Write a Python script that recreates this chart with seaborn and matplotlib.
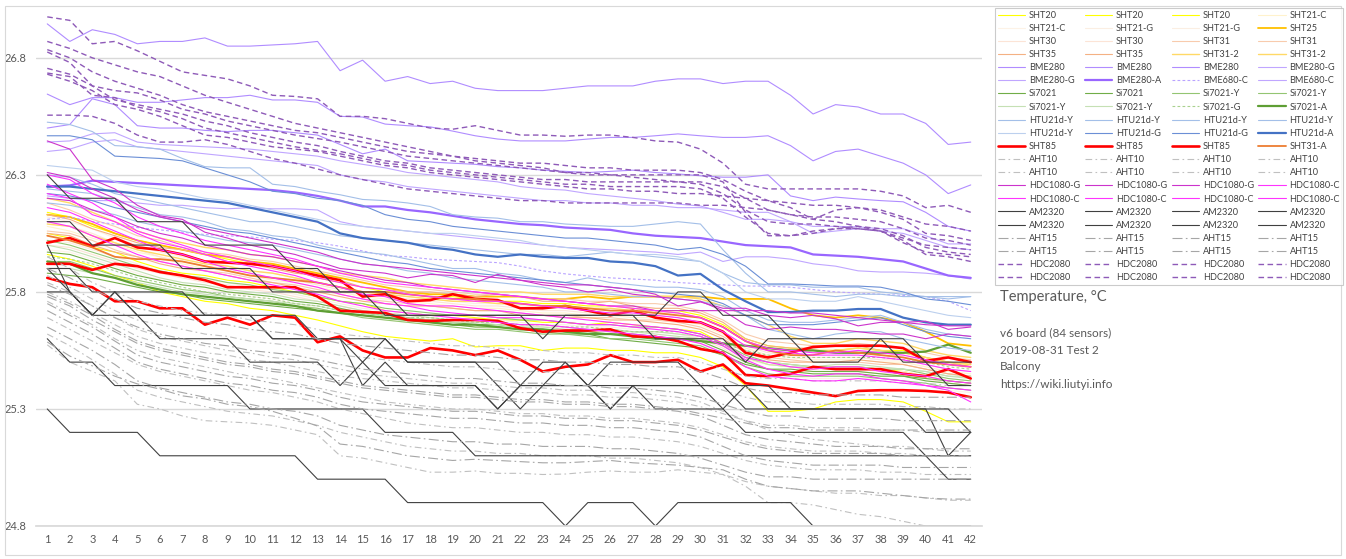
import numpy as np
import pandas as pd
import seaborn as sns
import matplotlib.pyplot as plt
from matplotlib.patches import Rectangle

points = list(range(1, 43))

# --- values (one list per sensor, 42 readings each) ---
sht20 = [
    [25.96, 25.94, 25.91, 25.87, 25.84, 25.80, 25.78, 25.76, 25.75, 25.73, 25.72, 25.70, 25.68, 25.655, 25.63, 25.61, 25.60, 25.59, 25.60, 25.565, 25.57, 25.57, 25.55, 25.56, 25.56, 25.55, 25.55, 25.54, 25.54, 25.52, 25.48, 25.40, 25.29, 25.29, 25.30, 25.33, 25.34, 25.34, 25.33, 25.29, 25.245, 25.245],
    [26.05, 26.03, 25.99, 25.97, 25.93, 25.90, 25.88, 25.87, 25.85, 25.84, 25.82, 25.80, 25.78, 25.76, 25.75, 25.72, 25.71, 25.70, 25.70, 25.69, 25.68, 25.68, 25.67, 25.67, 25.66, 25.67, 25.66, 25.65, 25.64, 25.63, 25.58, 25.52, 25.49, 25.48, 25.47, 25.48, 25.48, 25.47, 25.46, 25.44, 25.42, 25.41],
    [26.14, 26.12, 26.08, 26.05, 26.02, 26.00, 25.98, 25.96, 25.94, 25.92, 25.91, 25.89, 25.86, 25.84, 25.82, 25.80, 25.79, 25.78, 25.78, 25.77, 25.76, 25.76, 25.75, 25.75, 25.74, 25.74, 25.73, 25.72, 25.72, 25.70, 25.66, 25.60, 25.57, 25.56, 25.55, 25.55, 25.56, 25.55, 25.55, 25.52, 25.50, 25.49],
]
sht21_c = [
    [26.08, 26.06, 26.03, 26.00, 25.97, 25.95, 25.92, 25.90, 25.89, 25.87, 25.85, 25.84, 25.82, 25.80, 25.78, 25.77, 25.76, 25.75, 25.74, 25.73, 25.73, 25.72, 25.71, 25.71, 25.70, 25.70, 25.69, 25.69, 25.68, 25.66, 25.62, 25.56, 25.53, 25.52, 25.51, 25.51, 25.51, 25.50, 25.50, 25.48, 25.46, 25.45],
    [25.98, 25.97, 25.94, 25.91, 25.88, 25.85, 25.83, 25.81, 25.80, 25.78, 25.77, 25.75, 25.73, 25.71, 25.70, 25.68, 25.67, 25.66, 25.66, 25.65, 25.64, 25.64, 25.63, 25.63, 25.62, 25.62, 25.61, 25.61, 25.60, 25.58, 25.54, 25.48, 25.45, 25.44, 25.43, 25.43, 25.43, 25.43, 25.42, 25.40, 25.38, 25.37],
]
sht21_g = [
    [26.02, 26.01, 25.98, 25.95, 25.92, 25.89, 25.87, 25.85, 25.84, 25.82, 25.81, 25.79, 25.77, 25.75, 25.73, 25.72, 25.71, 25.70, 25.69, 25.68, 25.68, 25.67, 25.66, 25.66, 25.65, 25.65, 25.64, 25.64, 25.63, 25.61, 25.57, 25.51, 25.49, 25.48, 25.47, 25.47, 25.47, 25.46, 25.46, 25.44, 25.42, 25.41],
    [26.12, 26.10, 26.07, 26.03, 26.00, 25.97, 25.95, 25.93, 25.91, 25.89, 25.88, 25.86, 25.84, 25.82, 25.80, 25.79, 25.78, 25.77, 25.76, 25.75, 25.75, 25.74, 25.74, 25.73, 25.73, 25.72, 25.72, 25.71, 25.71, 25.69, 25.65, 25.59, 25.56, 25.55, 25.54, 25.54, 25.54, 25.53, 25.53, 25.51, 25.49, 25.48],
]
sht25 = [26.13, 26.12, 26.09, 26.05, 26.02, 26.00, 25.98, 25.96, 25.95, 25.93, 25.92, 25.90, 25.88, 25.86, 25.84, 25.82, 25.80, 25.79, 25.79, 25.78, 25.78, 25.78, 25.77, 25.77, 25.78, 25.77, 25.78, 25.78, 25.78, 25.78, 25.77, 25.77, 25.77, 25.73, 25.70, 25.69, 25.70, 25.69, 25.67, 25.63, 25.58, 25.57]
sht30 = [
    [26.10, 26.08, 26.05, 26.01, 25.98, 25.95, 25.93, 25.91, 25.90, 25.88, 25.86, 25.85, 25.83, 25.81, 25.79, 25.78, 25.77, 25.76, 25.75, 25.74, 25.74, 25.73, 25.72, 25.72, 25.71, 25.71, 25.70, 25.70, 25.69, 25.67, 25.63, 25.57, 25.54, 25.53, 25.52, 25.52, 25.52, 25.51, 25.51, 25.49, 25.47, 25.46],
    [26.00, 25.99, 25.96, 25.93, 25.90, 25.88, 25.86, 25.84, 25.83, 25.81, 25.80, 25.78, 25.76, 25.74, 25.72, 25.71, 25.70, 25.69, 25.68, 25.67, 25.67, 25.66, 25.65, 25.65, 25.64, 25.64, 25.63, 25.63, 25.62, 25.60, 25.56, 25.50, 25.47, 25.46, 25.46, 25.46, 25.46, 25.45, 25.45, 25.43, 25.41, 25.40],
]
sht31 = [
    [26.18, 26.15, 26.11, 26.08, 26.04, 26.02, 25.99, 25.97, 25.96, 25.94, 25.93, 25.91, 25.89, 25.87, 25.85, 25.83, 25.82, 25.81, 25.80, 25.79, 25.79, 25.78, 25.77, 25.77, 25.76, 25.76, 25.75, 25.75, 25.74, 25.72, 25.68, 25.62, 25.59, 25.58, 25.57, 25.57, 25.58, 25.57, 25.56, 25.54, 25.52, 25.51],
    [26.06, 26.05, 26.02, 25.98, 25.95, 25.93, 25.91, 25.89, 25.88, 25.86, 25.84, 25.83, 25.81, 25.79, 25.77, 25.76, 25.75, 25.74, 25.73, 25.72, 25.72, 25.71, 25.70, 25.70, 25.69, 25.69, 25.68, 25.68, 25.67, 25.65, 25.61, 25.55, 25.52, 25.51, 25.50, 25.50, 25.50, 25.49, 25.49, 25.47, 25.45, 25.44],
]
sht35 = [
    [26.13, 26.11, 26.07, 26.04, 26.01, 25.99, 25.98, 25.96, 25.93, 25.92, 25.90, 25.88, 25.87, 25.85, 25.82, 25.81, 25.80, 25.80, 25.79, 25.78, 25.79, 25.78, 25.76, 25.76, 25.75, 25.76, 25.74, 25.73, 25.73, 25.71, 25.67, 25.60, 25.57, 25.56, 25.56, 25.57, 25.57, 25.55, 25.54, 25.52, 25.50, 25.48],
    [26.05, 26.04, 26.00, 25.97, 25.95, 25.92, 25.90, 25.89, 25.87, 25.85, 25.84, 25.82, 25.80, 25.78, 25.76, 25.75, 25.74, 25.74, 25.73, 25.72, 25.72, 25.70, 25.70, 25.69, 25.69, 25.68, 25.68, 25.67, 25.66, 25.64, 25.60, 25.54, 25.51, 25.50, 25.50, 25.50, 25.51, 25.50, 25.49, 25.47, 25.45, 25.44],
]
sht31_2 = [
    [26.20, 26.18, 26.14, 26.10, 26.06, 26.03, 26.01, 25.99, 25.98, 25.96, 25.95, 25.93, 25.91, 25.88, 25.87, 25.86, 25.84, 25.83, 25.82, 25.81, 25.80, 25.80, 25.79, 25.79, 25.79, 25.78, 25.78, 25.78, 25.78, 25.77, 25.74, 25.70, 25.66, 25.61, 25.58, 25.58, 25.60, 25.59, 25.58, 25.55, 25.53, 25.52],
    [26.09, 26.08, 26.04, 26.01, 25.98, 25.96, 25.94, 25.92, 25.91, 25.89, 25.88, 25.86, 25.84, 25.82, 25.80, 25.79, 25.78, 25.77, 25.76, 25.76, 25.75, 25.75, 25.74, 25.74, 25.73, 25.73, 25.72, 25.72, 25.71, 25.69, 25.65, 25.59, 25.56, 25.55, 25.55, 25.55, 25.56, 25.55, 25.54, 25.52, 25.50, 25.49],
]
bme280 = [
    [26.945, 26.87, 26.92, 26.90, 26.86, 26.87, 26.87, 26.885, 26.85, 26.85, 26.855, 26.86, 26.87, 26.745, 26.79, 26.70, 26.72, 26.69, 26.70, 26.67, 26.66, 26.66, 26.66, 26.67, 26.68, 26.68, 26.68, 26.70, 26.71, 26.71, 26.69, 26.70, 26.70, 26.64, 26.56, 26.60, 26.59, 26.56, 26.56, 26.52, 26.43, 26.44],
    [26.645, 26.60, 26.63, 26.63, 26.61, 26.61, 26.62, 26.63, 26.63, 26.64, 26.62, 26.62, 26.61, 26.55, 26.547, 26.517, 26.51, 26.505, 26.487, 26.467, 26.453, 26.445, 26.445, 26.445, 26.453, 26.46, 26.46, 26.467, 26.475, 26.467, 26.46, 26.46, 26.467, 26.425, 26.36, 26.40, 26.41, 26.38, 26.35, 26.30, 26.22, 26.257],
    [26.50, 26.515, 26.625, 26.60, 26.51, 26.50, 26.50, 26.49, 26.485, 26.49, 26.49, 26.48, 26.47, 26.43, 26.39, 26.41, 26.36, 26.355, 26.35, 26.345, 26.335, 26.33, 26.32, 26.315, 26.31, 26.315, 26.32, 26.31, 26.304, 26.296, 26.29, 26.29, 26.30, 26.21, 26.19, 26.205, 26.197, 26.19, 26.185, 26.14, 26.08, 26.06],
]
bme280_g = [
    [26.44, 26.445, 26.475, 26.48, 26.44, 26.43, 26.425, 26.42, 26.415, 26.41, 26.40, 26.39, 26.38, 26.36, 26.345, 26.33, 26.31, 26.30, 26.29, 26.28, 26.27, 26.25, 26.24, 26.235, 26.22, 26.21, 26.20, 26.19, 26.175, 26.167, 26.14, 26.11, 26.11, 26.10, 26.08, 26.08, 26.078, 26.07, 26.07, 26.04, 26.005, 26.005],
    [26.21, 26.20, 26.19, 26.19, 26.18, 26.17, 26.17, 26.16, 26.155, 26.16, 26.155, 26.155, 26.15, 26.10, 26.08, 26.07, 26.06, 26.05, 26.04, 26.03, 26.02, 26.01, 26.00, 25.99, 25.985, 25.98, 25.975, 25.97, 25.96, 25.97, 25.93, 25.95, 25.95, 25.94, 25.92, 25.91, 25.89, 25.885, 25.885, 25.88, 25.87, 25.855],
]
bme280_a = [26.25, 26.255, 26.275, 26.27, 26.265, 26.26, 26.255, 26.25, 26.245, 26.24, 26.235, 26.225, 26.21, 26.19, 26.165, 26.165, 26.15, 26.14, 26.125, 26.11, 26.10, 26.09, 26.085, 26.075, 26.07, 26.065, 26.05, 26.04, 26.035, 26.03, 26.015, 26.00, 25.995, 25.99, 25.96, 25.955, 25.95, 25.94, 25.93, 25.90, 25.87, 25.86]
bme680_c = [
    [26.11, 26.12, 26.10, 26.09, 26.075, 26.065, 26.055, 26.045, 26.04, 26.035, 26.025, 26.02, 26.01, 25.995, 25.975, 25.955, 25.95, 25.94, 25.935, 25.93, 25.925, 25.91, 25.89, 25.877, 25.868, 25.86, 25.855, 25.85, 25.84, 25.835, 25.83, 25.825, 25.825, 25.82, 25.81, 25.80, 25.795, 25.79, 25.785, 25.78, 25.76, 25.72],
    [26.40, 26.41, 26.44, 26.45, 26.42, 26.41, 26.40, 26.39, 26.38, 26.37, 26.36, 26.35, 26.34, 26.30, 26.28, 26.27, 26.25, 26.24, 26.23, 26.22, 26.21, 26.20, 26.19, 26.19, 26.18, 26.18, 26.17, 26.17, 26.16, 26.16, 26.15, 26.14, 26.14, 26.10, 26.05, 26.06, 26.07, 26.06, 26.05, 26.02, 25.99, 25.98],
]
si7021 = [
    [25.97, 25.96, 25.93, 25.90, 25.87, 25.85, 25.83, 25.82, 25.80, 25.79, 25.78, 25.76, 25.75, 25.73, 25.71, 25.70, 25.69, 25.68, 25.67, 25.66, 25.66, 25.65, 25.64, 25.63, 25.63, 25.62, 25.62, 25.61, 25.60, 25.59, 25.55, 25.50, 25.47, 25.46, 25.45, 25.45, 25.45, 25.44, 25.44, 25.42, 25.41, 25.40],
    [25.88, 25.87, 25.86, 25.84, 25.82, 25.80, 25.79, 25.77, 25.76, 25.75, 25.74, 25.73, 25.72, 25.71, 25.70, 25.69, 25.68, 25.67, 25.66, 25.65, 25.65, 25.64, 25.63, 25.62, 25.62, 25.60, 25.59, 25.58, 25.57, 25.56, 25.53, 25.49, 25.47, 25.47, 25.46, 25.46, 25.46, 25.45, 25.44, 25.43, 25.42, 25.41],
]
si7021_y = [
    [26.02, 26.00, 25.97, 25.94, 25.91, 25.89, 25.87, 25.86, 25.84, 25.83, 25.81, 25.80, 25.78, 25.76, 25.75, 25.73, 25.72, 25.71, 25.70, 25.70, 25.69, 25.68, 25.68, 25.67, 25.66, 25.66, 25.65, 25.65, 25.64, 25.62, 25.58, 25.53, 25.50, 25.49, 25.48, 25.48, 25.48, 25.47, 25.47, 25.45, 25.43, 25.42],
    [25.93, 25.93, 25.90, 25.87, 25.85, 25.83, 25.81, 25.80, 25.78, 25.77, 25.76, 25.74, 25.73, 25.71, 25.69, 25.68, 25.67, 25.66, 25.65, 25.64, 25.64, 25.63, 25.62, 25.62, 25.61, 25.60, 25.60, 25.59, 25.58, 25.57, 25.53, 25.48, 25.45, 25.44, 25.44, 25.44, 25.44, 25.43, 25.42, 25.41, 25.39, 25.38],
    [25.90, 25.90, 25.88, 25.86, 25.84, 25.82, 25.80, 25.79, 25.78, 25.77, 25.76, 25.75, 25.74, 25.72, 25.71, 25.70, 25.69, 25.68, 25.67, 25.67, 25.66, 25.65, 25.65, 25.64, 25.64, 25.63, 25.63, 25.62, 25.61, 25.60, 25.57, 25.52, 25.49, 25.48, 25.48, 25.48, 25.48, 25.47, 25.47, 25.46, 25.44, 25.43],
    [26.00, 25.98, 25.95, 25.92, 25.89, 25.86, 25.84, 25.83, 25.81, 25.80, 25.79, 25.77, 25.76, 25.74, 25.72, 25.71, 25.70, 25.69, 25.68, 25.68, 25.67, 25.66, 25.66, 25.65, 25.64, 25.64, 25.63, 25.63, 25.62, 25.61, 25.57, 25.52, 25.50, 25.49, 25.48, 25.49, 25.49, 25.48, 25.47, 25.46, 25.44, 25.44],
]
si7021_g = [25.95, 25.94, 25.92, 25.89, 25.86, 25.84, 25.82, 25.80, 25.79, 25.78, 25.77, 25.75, 25.74, 25.72, 25.71, 25.70, 25.69, 25.69, 25.68, 25.67, 25.67, 25.66, 25.66, 25.65, 25.65, 25.64, 25.63, 25.63, 25.63, 25.61, 25.58, 25.55, 25.53, 25.52, 25.52, 25.52, 25.52, 25.52, 25.51, 25.50, 25.48, 25.47]
si7021_a = [25.93, 25.92, 25.88, 25.86, 25.83, 25.81, 25.79, 25.78, 25.77, 25.76, 25.75, 25.74, 25.72, 25.71, 25.70, 25.69, 25.68, 25.67, 25.66, 25.66, 25.65, 25.64, 25.64, 25.63, 25.62, 25.62, 25.61, 25.60, 25.60, 25.59, 25.58, 25.57, 25.56, 25.55, 25.55, 25.54, 25.54, 25.54, 25.54, 25.545, 25.575, 25.54]
htu21d_y = [
    [26.525, 26.515, 26.485, 26.425, 26.42, 26.41, 26.37, 26.335, 26.33, 26.33, 26.26, 26.25, 26.23, 26.215, 26.195, 26.19, 26.18, 26.165, 26.13, 26.12, 26.115, 26.10, 26.10, 26.09, 26.085, 26.08, 26.08, 26.09, 26.10, 26.09, 25.98, 25.88, 25.80, 25.80, 25.79, 25.78, 25.79, 25.79, 25.78, 25.78, 25.77, 25.78],
    [26.30, 26.29, 26.26, 26.22, 26.20, 26.18, 26.16, 26.14, 26.12, 26.10, 26.10, 26.08, 26.06, 26.04, 26.03, 26.02, 26.01, 26.00, 25.99, 25.98, 25.97, 25.96, 25.96, 25.95, 25.96, 25.97, 25.96, 25.95, 25.94, 25.93, 25.88, 25.84, 25.83, 25.83, 25.82, 25.82, 25.82, 25.80, 25.79, 25.78, 25.78, 25.78],
    [26.24, 26.23, 26.22, 26.19, 26.16, 26.13, 26.12, 26.10, 26.07, 26.06, 26.04, 26.03, 26.00, 25.98, 25.97, 25.96, 25.94, 25.92, 25.90, 25.90, 25.88, 25.87, 25.85, 25.84, 25.86, 25.84, 25.83, 25.82, 25.82, 25.81, 25.78, 25.72, 25.68, 25.67, 25.67, 25.68, 25.69, 25.70, 25.67, 25.64, 25.62, 25.61],
    [26.18, 26.17, 26.15, 26.13, 26.10, 26.08, 26.06, 26.04, 26.02, 26.01, 26.00, 25.98, 25.96, 25.94, 25.92, 25.91, 25.89, 25.88, 25.86, 25.85, 25.84, 25.83, 25.82, 25.80, 25.80, 25.79, 25.78, 25.78, 25.77, 25.76, 25.74, 25.70, 25.64, 25.62, 25.60, 25.62, 25.63, 25.63, 25.60, 25.58, 25.56, 25.55],
    [26.34, 26.33, 26.32, 26.27, 26.25, 26.24, 26.22, 26.20, 26.19, 26.17, 26.15, 26.13, 26.11, 26.09, 26.08, 26.07, 26.06, 26.05, 26.05, 26.04, 26.03, 26.02, 26.00, 25.99, 25.98, 25.97, 25.96, 25.96, 25.95, 25.93, 25.88, 25.80, 25.77, 25.77, 25.76, 25.76, 25.78, 25.76, 25.74, 25.72, 25.70, 25.69],
]
htu21d_g = [
    [26.467, 26.467, 26.45, 26.38, 26.375, 26.37, 26.36, 26.33, 26.30, 26.27, 26.23, 26.22, 26.20, 26.19, 26.17, 26.13, 26.11, 26.10, 26.08, 26.07, 26.06, 26.05, 26.04, 26.03, 26.03, 26.02, 26.01, 26.00, 25.98, 25.99, 25.96, 25.91, 25.834, 25.834, 25.83, 25.825, 25.825, 25.82, 25.80, 25.77, 25.76, 25.745],
    [26.22, 26.21, 26.19, 26.16, 26.14, 26.12, 26.10, 26.08, 26.06, 26.05, 26.03, 26.01, 25.99, 25.97, 25.95, 25.93, 25.92, 25.90, 25.89, 25.88, 25.87, 25.86, 25.85, 25.84, 25.83, 25.82, 25.81, 25.80, 25.79, 25.78, 25.75, 25.70, 25.66, 25.66, 25.66, 25.67, 25.68, 25.69, 25.66, 25.63, 25.61, 25.60],
]
htu21d_a = [26.25, 26.25, 26.24, 26.23, 26.22, 26.21, 26.20, 26.19, 26.18, 26.16, 26.14, 26.12, 26.10, 26.05, 26.03, 26.02, 26.01, 25.99, 25.98, 25.96, 25.95, 25.96, 25.95, 25.945, 25.945, 25.93, 25.925, 25.91, 25.87, 25.877, 25.81, 25.76, 25.714, 25.714, 25.72, 25.72, 25.727, 25.727, 25.69, 25.67, 25.66, 25.66]
sht85 = [
    [26.01, 26.03, 25.995, 26.03, 25.99, 25.98, 25.96, 25.93, 25.925, 25.92, 25.91, 25.89, 25.87, 25.85, 25.78, 25.79, 25.76, 25.765, 25.79, 25.77, 25.765, 25.73, 25.73, 25.74, 25.72, 25.70, 25.72, 25.69, 25.676, 25.67, 25.63, 25.54, 25.52, 25.54, 25.565, 25.57, 25.57, 25.57, 25.56, 25.505, 25.52, 25.50],
    [25.92, 25.92, 25.894, 25.92, 25.91, 25.885, 25.87, 25.85, 25.82, 25.82, 25.82, 25.82, 25.78, 25.72, 25.715, 25.71, 25.68, 25.676, 25.68, 25.68, 25.676, 25.645, 25.63, 25.635, 25.635, 25.64, 25.61, 25.608, 25.59, 25.556, 25.54, 25.445, 25.44, 25.45, 25.48, 25.47, 25.47, 25.47, 25.45, 25.44, 25.47, 25.43],
    [25.86, 25.834, 25.82, 25.76, 25.76, 25.73, 25.73, 25.66, 25.69, 25.66, 25.70, 25.69, 25.585, 25.61, 25.55, 25.52, 25.52, 25.56, 25.55, 25.53, 25.55, 25.51, 25.46, 25.48, 25.49, 25.53, 25.50, 25.50, 25.51, 25.46, 25.49, 25.41, 25.40, 25.385, 25.37, 25.355, 25.377, 25.38, 25.38, 25.377, 25.37, 25.35],
]
sht31_a = [26.04, 26.02, 25.99, 25.95, 25.94, 25.94, 25.93, 25.91, 25.89, 25.87, 25.86, 25.85, 25.84, 25.82, 25.80, 25.80, 25.79, 25.78, 25.77, 25.77, 25.76, 25.75, 25.74, 25.74, 25.73, 25.72, 25.72, 25.71, 25.70, 25.69, 25.65, 25.59, 25.55, 25.53, 25.53, 25.55, 25.54, 25.53, 25.52, 25.50, 25.49, 25.48]
aht10 = [
    [25.95, 25.90, 25.84, 25.80, 25.76, 25.74, 25.72, 25.71, 25.70, 25.68, 25.67, 25.66, 25.64, 25.62, 25.61, 25.60, 25.59, 25.58, 25.57, 25.57, 25.56, 25.55, 25.55, 25.54, 25.54, 25.53, 25.53, 25.52, 25.52, 25.50, 25.47, 25.44, 25.43, 25.43, 25.42, 25.42, 25.42, 25.42, 25.41, 25.41, 25.40, 25.40],
    [25.87, 25.82, 25.77, 25.72, 25.68, 25.66, 25.64, 25.62, 25.61, 25.59, 25.58, 25.57, 25.55, 25.53, 25.52, 25.51, 25.50, 25.49, 25.48, 25.48, 25.47, 25.46, 25.46, 25.45, 25.45, 25.44, 25.44, 25.43, 25.43, 25.41, 25.38, 25.35, 25.33, 25.33, 25.32, 25.32, 25.32, 25.32, 25.31, 25.31, 25.30, 25.30],
    [25.80, 25.76, 25.71, 25.66, 25.61, 25.58, 25.56, 25.54, 25.53, 25.51, 25.50, 25.48, 25.46, 25.44, 25.43, 25.42, 25.41, 25.40, 25.39, 25.39, 25.38, 25.37, 25.37, 25.36, 25.36, 25.35, 25.35, 25.34, 25.33, 25.31, 25.28, 25.25, 25.23, 25.23, 25.22, 25.22, 25.22, 25.21, 25.21, 25.20, 25.20, 25.20],
    [25.76, 25.71, 25.66, 25.60, 25.55, 25.52, 25.50, 25.48, 25.46, 25.44, 25.43, 25.41, 25.39, 25.37, 25.35, 25.33, 25.32, 25.31, 25.30, 25.30, 25.29, 25.28, 25.28, 25.27, 25.27, 25.26, 25.26, 25.25, 25.24, 25.22, 25.19, 25.16, 25.14, 25.13, 25.12, 25.12, 25.12, 25.11, 25.11, 25.10, 25.10, 25.10],
    [25.69, 25.64, 25.59, 25.54, 25.49, 25.46, 25.44, 25.42, 25.40, 25.38, 25.37, 25.35, 25.33, 25.30, 25.28, 25.26, 25.24, 25.23, 25.22, 25.22, 25.21, 25.20, 25.20, 25.19, 25.19, 25.18, 25.18, 25.17, 25.16, 25.14, 25.11, 25.08, 25.06, 25.05, 25.04, 25.04, 25.04, 25.03, 25.03, 25.02, 25.02, 25.02],
    [25.62, 25.57, 25.51, 25.45, 25.38, 25.35, 25.33, 25.31, 25.29, 25.28, 25.27, 25.25, 25.23, 25.20, 25.18, 25.16, 25.14, 25.13, 25.12, 25.12, 25.11, 25.11, 25.10, 25.10, 25.10, 25.09, 25.09, 25.08, 25.07, 25.05, 25.02, 24.99, 24.97, 24.96, 24.95, 24.94, 24.94, 24.93, 24.93, 24.92, 24.91, 24.91],
    [25.574, 25.50, 25.46, 25.42, 25.32, 25.30, 25.27, 25.25, 25.245, 25.24, 25.23, 25.21, 25.19, 25.10, 25.09, 25.07, 25.05, 25.03, 25.03, 25.035, 25.025, 25.025, 25.02, 25.022, 25.03, 25.035, 25.03, 25.03, 25.04, 25.03, 25.02, 24.97, 24.90, 24.90, 24.89, 24.87, 24.85, 24.84, 24.82, 24.80, 24.79, 24.78],
    [25.84, 25.80, 25.74, 25.69, 25.64, 25.61, 25.59, 25.57, 25.55, 25.54, 25.52, 25.51, 25.49, 25.47, 25.45, 25.44, 25.43, 25.42, 25.41, 25.41, 25.40, 25.39, 25.39, 25.38, 25.38, 25.37, 25.37, 25.36, 25.35, 25.33, 25.29, 25.25, 25.21, 25.19, 25.17, 25.16, 25.15, 25.14, 25.14, 25.13, 25.12, 25.12],
]
hdc1080_g = [
    [26.445, 26.41, 26.28, 26.24, 26.17, 26.125, 26.11, 26.055, 26.03, 26.00, 25.98, 25.96, 25.93, 25.90, 25.89, 25.88, 25.86, 25.875, 25.87, 25.84, 25.875, 25.85, 25.83, 25.82, 25.80, 25.81, 25.79, 25.78, 25.77, 25.76, 25.72, 25.66, 25.64, 25.65, 25.64, 25.64, 25.63, 25.62, 25.62, 25.60, 25.62, 25.61],
    [26.31, 26.29, 26.24, 26.20, 26.15, 26.12, 26.10, 26.07, 26.05, 26.03, 26.01, 25.99, 25.97, 25.94, 25.92, 25.91, 25.90, 25.89, 25.88, 25.87, 25.86, 25.85, 25.84, 25.83, 25.83, 25.82, 25.81, 25.79, 25.74, 25.757, 25.73, 25.73, 25.70, 25.69, 25.70, 25.685, 25.655, 25.67, 25.67, 25.675, 25.64, 25.65],
    [26.20, 26.19, 26.15, 26.12, 26.08, 26.05, 26.03, 26.00, 25.98, 25.96, 25.95, 25.93, 25.91, 25.89, 25.87, 25.85, 25.84, 25.82, 25.81, 25.80, 25.79, 25.78, 25.77, 25.76, 25.75, 25.74, 25.74, 25.72, 25.72, 25.72, 25.72, 25.72, 25.72, 25.71, 25.71, 25.70, 25.69, 25.68, 25.67, 25.66, 25.655, 25.655],
]
hdc1080_c = [
    [26.30, 26.28, 26.22, 26.18, 26.12, 26.08, 26.05, 26.02, 26.00, 25.98, 25.96, 25.94, 25.91, 25.88, 25.86, 25.84, 25.83, 25.82, 25.81, 25.80, 25.79, 25.78, 25.77, 25.76, 25.75, 25.74, 25.73, 25.72, 25.71, 25.69, 25.65, 25.59, 25.56, 25.55, 25.54, 25.54, 25.55, 25.54, 25.53, 25.51, 25.49, 25.48],
    [26.22, 26.20, 26.13, 26.10, 26.05, 26.01, 25.99, 25.96, 25.93, 25.91, 25.89, 25.87, 25.84, 25.82, 25.79, 25.78, 25.75, 25.74, 25.74, 25.73, 25.72, 25.71, 25.70, 25.69, 25.68, 25.67, 25.66, 25.65, 25.64, 25.62, 25.58, 25.52, 25.50, 25.48, 25.47, 25.48, 25.48, 25.46, 25.45, 25.44, 25.42, 25.41],
    [26.16, 26.14, 26.10, 26.06, 26.02, 25.98, 25.96, 25.93, 25.90, 25.88, 25.86, 25.84, 25.82, 25.79, 25.77, 25.75, 25.74, 25.72, 25.71, 25.70, 25.69, 25.69, 25.68, 25.67, 25.66, 25.66, 25.65, 25.64, 25.63, 25.61, 25.57, 25.51, 25.47, 25.45, 25.44, 25.45, 25.45, 25.43, 25.42, 25.40, 25.38, 25.33],
    [26.26, 26.22, 26.18, 26.12, 26.06, 26.03, 26.00, 25.97, 25.95, 25.93, 25.91, 25.89, 25.86, 25.84, 25.82, 25.81, 25.79, 25.78, 25.77, 25.76, 25.76, 25.75, 25.74, 25.73, 25.72, 25.71, 25.71, 25.70, 25.69, 25.67, 25.63, 25.57, 25.55, 25.54, 25.53, 25.53, 25.53, 25.52, 25.51, 25.49, 25.47, 25.46],
    [26.10, 26.08, 26.04, 26.00, 25.96, 25.93, 25.91, 25.89, 25.87, 25.85, 25.83, 25.81, 25.79, 25.76, 25.74, 25.72, 25.71, 25.70, 25.69, 25.68, 25.67, 25.66, 25.66, 25.65, 25.64, 25.63, 25.62, 25.61, 25.60, 25.58, 25.54, 25.48, 25.44, 25.43, 25.42, 25.42, 25.43, 25.42, 25.41, 25.40, 25.39, 25.38],
]
am2320 = [
    [25.3, 25.2, 25.2, 25.2, 25.2, 25.1, 25.1, 25.1, 25.1, 25.1, 25.1, 25.1, 25.0, 25.0, 25.0, 25.0, 24.9, 24.9, 24.9, 24.9, 24.9, 24.9, 24.9, 24.8, 24.9, 24.9, 24.9, 24.8, 24.9, 24.9, 24.9, 24.9, 24.9, 24.9, 24.8, 24.8, 24.8, 24.8, 24.8, 24.8, 24.8, 24.8],
    [25.6, 25.5, 25.5, 25.4, 25.4, 25.4, 25.4, 25.4, 25.4, 25.3, 25.3, 25.3, 25.3, 25.3, 25.3, 25.2, 25.2, 25.2, 25.2, 25.1, 25.1, 25.1, 25.1, 25.1, 25.1, 25.1, 25.1, 25.1, 25.1, 25.1, 25.1, 25.1, 25.1, 25.1, 25.1, 25.1, 25.1, 25.1, 25.1, 25.1, 25.1, 25.1],
    [26.3, 26.2, 26.2, 26.2, 26.1, 26.1, 26.1, 26.0, 26.0, 26.0, 26.0, 25.9, 25.9, 25.8, 25.8, 25.8, 25.7, 25.7, 25.7, 25.7, 25.7, 25.7, 25.7, 25.7, 25.7, 25.7, 25.7, 25.7, 25.8, 25.8, 25.7, 25.7, 25.7, 25.6, 25.6, 25.6, 25.6, 25.6, 25.6, 25.5, 25.5, 25.5],
    [26.1, 26.1, 26.0, 26.0, 26.0, 26.0, 25.9, 25.9, 25.9, 25.9, 25.8, 25.8, 25.8, 25.8, 25.8, 25.7, 25.7, 25.7, 25.7, 25.7, 25.7, 25.7, 25.6, 25.7, 25.7, 25.7, 25.7, 25.6, 25.6, 25.6, 25.6, 25.5, 25.6, 25.6, 25.5, 25.5, 25.5, 25.6, 25.5, 25.5, 25.4, 25.4],
    [26.0, 25.8, 25.7, 25.8, 25.7, 25.6, 25.6, 25.6, 25.6, 25.5, 25.5, 25.5, 25.5, 25.4, 25.5, 25.4, 25.4, 25.4, 25.4, 25.4, 25.3, 25.4, 25.4, 25.4, 25.4, 25.3, 25.4, 25.4, 25.4, 25.4, 25.4, 25.3, 25.3, 25.3, 25.3, 25.3, 25.3, 25.3, 25.3, 25.3, 25.1, 25.2],
    [25.9, 25.9, 25.8, 25.8, 25.7, 25.7, 25.7, 25.7, 25.7, 25.7, 25.6, 25.6, 25.6, 25.6, 25.6, 25.6, 25.5, 25.5, 25.5, 25.5, 25.5, 25.4, 25.5, 25.5, 25.4, 25.5, 25.5, 25.5, 25.5, 25.4, 25.4, 25.4, 25.4, 25.3, 25.3, 25.3, 25.3, 25.3, 25.3, 25.2, 25.2, 25.2],
    [25.8, 25.8, 25.7, 25.7, 25.7, 25.7, 25.7, 25.7, 25.7, 25.7, 25.7, 25.7, 25.6, 25.6, 25.4, 25.5, 25.4, 25.4, 25.4, 25.4, 25.3, 25.4, 25.4, 25.5, 25.4, 25.3, 25.4, 25.3, 25.3, 25.3, 25.3, 25.2, 25.2, 25.2, 25.2, 25.2, 25.2, 25.2, 25.2, 25.1, 25.0, 25.0],
    [25.9, 25.8, 25.7, 25.8, 25.8, 25.8, 25.8, 25.7, 25.7, 25.7, 25.6, 25.6, 25.6, 25.6, 25.5, 25.6, 25.5, 25.5, 25.5, 25.5, 25.4, 25.3, 25.4, 25.4, 25.4, 25.4, 25.4, 25.4, 25.4, 25.4, 25.3, 25.4, 25.3, 25.3, 25.3, 25.3, 25.3, 25.3, 25.3, 25.3, 25.3, 25.2],
]
aht15 = [
    [25.90, 25.86, 25.81, 25.77, 25.73, 25.71, 25.69, 25.67, 25.66, 25.64, 25.63, 25.62, 25.60, 25.58, 25.57, 25.56, 25.55, 25.54, 25.53, 25.53, 25.52, 25.51, 25.51, 25.50, 25.50, 25.49, 25.49, 25.48, 25.48, 25.46, 25.43, 25.39, 25.37, 25.37, 25.36, 25.36, 25.36, 25.36, 25.35, 25.35, 25.35, 25.35],
    [25.83, 25.79, 25.74, 25.69, 25.65, 25.62, 25.60, 25.58, 25.57, 25.55, 25.54, 25.53, 25.51, 25.49, 25.47, 25.46, 25.45, 25.44, 25.43, 25.43, 25.42, 25.41, 25.41, 25.40, 25.40, 25.39, 25.39, 25.38, 25.37, 25.35, 25.32, 25.29, 25.27, 25.27, 25.26, 25.26, 25.26, 25.26, 25.25, 25.25, 25.25, 25.25],
    [25.79, 25.75, 25.70, 25.64, 25.59, 25.56, 25.54, 25.52, 25.50, 25.49, 25.47, 25.46, 25.44, 25.42, 25.40, 25.39, 25.38, 25.37, 25.36, 25.36, 25.35, 25.34, 25.34, 25.33, 25.33, 25.32, 25.32, 25.31, 25.30, 25.28, 25.26, 25.24, 25.22, 25.22, 25.21, 25.21, 25.21, 25.21, 25.21, 25.21, 25.21, 25.21],
    [25.75, 25.70, 25.65, 25.59, 25.53, 25.50, 25.48, 25.46, 25.44, 25.43, 25.41, 25.40, 25.38, 25.35, 25.33, 25.32, 25.31, 25.30, 25.29, 25.29, 25.28, 25.27, 25.27, 25.26, 25.26, 25.25, 25.25, 25.24, 25.23, 25.21, 25.18, 25.15, 25.13, 25.12, 25.11, 25.11, 25.11, 25.11, 25.10, 25.10, 25.10, 25.10],
    [25.72, 25.67, 25.62, 25.56, 25.50, 25.47, 25.45, 25.43, 25.41, 25.40, 25.38, 25.37, 25.35, 25.32, 25.30, 25.29, 25.28, 25.27, 25.26, 25.26, 25.25, 25.24, 25.24, 25.23, 25.23, 25.22, 25.22, 25.21, 25.20, 25.18, 25.14, 25.10, 25.08, 25.07, 25.06, 25.06, 25.06, 25.06, 25.05, 25.05, 25.05, 25.05],
    [25.65, 25.60, 25.55, 25.49, 25.42, 25.39, 25.37, 25.35, 25.33, 25.32, 25.30, 25.29, 25.27, 25.23, 25.21, 25.19, 25.18, 25.17, 25.16, 25.16, 25.15, 25.15, 25.14, 25.14, 25.14, 25.13, 25.13, 25.12, 25.11, 25.09, 25.06, 25.03, 25.01, 25.01, 25.00, 25.00, 25.00, 25.00, 25.00, 25.00, 25.00, 25.00],
    [25.586, 25.526, 25.484, 25.44, 25.407, 25.385, 25.356, 25.343, 25.32, 25.31, 25.29, 25.26, 25.227, 25.15, 25.14, 25.12, 25.10, 25.09, 25.08, 25.085, 25.08, 25.075, 25.07, 25.07, 25.075, 25.08, 25.07, 25.065, 25.06, 25.05, 25.04, 25.00, 24.97, 24.96, 24.95, 24.95, 24.95, 24.94, 24.93, 24.92, 24.915, 24.915],
    [25.78, 25.74, 25.68, 25.63, 25.58, 25.55, 25.53, 25.51, 25.49, 25.48, 25.46, 25.45, 25.43, 25.41, 25.39, 25.38, 25.37, 25.36, 25.35, 25.35, 25.34, 25.33, 25.33, 25.32, 25.32, 25.31, 25.31, 25.30, 25.29, 25.27, 25.23, 25.19, 25.17, 25.16, 25.15, 25.14, 25.14, 25.14, 25.13, 25.13, 25.13, 25.13],
]
hdc2080 = [
    [26.975, 26.96, 26.86, 26.87, 26.83, 26.785, 26.74, 26.725, 26.71, 26.68, 26.64, 26.635, 26.625, 26.55, 26.55, 26.54, 26.52, 26.50, 26.495, 26.51, 26.49, 26.47, 26.47, 26.465, 26.47, 26.47, 26.46, 26.445, 26.44, 26.41, 26.35, 26.26, 26.24, 26.24, 26.24, 26.24, 26.24, 26.23, 26.21, 26.16, 26.17, 26.14],
    [26.87, 26.84, 26.80, 26.77, 26.74, 26.72, 26.68, 26.64, 26.61, 26.58, 26.55, 26.52, 26.50, 26.48, 26.46, 26.44, 26.42, 26.40, 26.38, 26.37, 26.36, 26.35, 26.35, 26.34, 26.33, 26.33, 26.32, 26.32, 26.32, 26.31, 26.28, 26.23, 26.19, 26.18, 26.17, 26.17, 26.16, 26.15, 26.12, 26.09, 26.08, 26.06],
    [26.835, 26.80, 26.74, 26.70, 26.67, 26.64, 26.60, 26.57, 26.55, 26.53, 26.51, 26.49, 26.48, 26.46, 26.44, 26.42, 26.40, 26.39, 26.38, 26.36, 26.35, 26.34, 26.33, 26.31, 26.30, 26.30, 26.29, 26.28, 26.27, 26.27, 26.25, 26.20, 26.15, 26.13, 26.12, 26.12, 26.11, 26.10, 26.07, 26.03, 26.02, 26.00],
    [26.825, 26.78, 26.68, 26.66, 26.65, 26.62, 26.58, 26.56, 26.53, 26.51, 26.49, 26.47, 26.455, 26.44, 26.42, 26.40, 26.38, 26.37, 26.36, 26.35, 26.34, 26.33, 26.32, 26.31, 26.31, 26.30, 26.30, 26.30, 26.30, 26.30, 26.27, 26.14, 26.04, 26.04, 26.05, 26.07, 26.08, 26.07, 26.04, 25.99, 25.97, 25.96],
    [26.755, 26.73, 26.68, 26.62, 26.60, 26.58, 26.56, 26.53, 26.51, 26.48, 26.46, 26.44, 26.425, 26.40, 26.38, 26.36, 26.35, 26.33, 26.32, 26.31, 26.30, 26.29, 26.28, 26.28, 26.27, 26.27, 26.27, 26.27, 26.27, 26.26, 26.22, 26.15, 26.10, 26.09, 26.09, 26.08, 26.07, 26.06, 26.01, 25.97, 25.96, 25.95],
    [26.735, 26.72, 26.64, 26.63, 26.59, 26.57, 26.54, 26.50, 26.48, 26.46, 26.44, 26.42, 26.405, 26.39, 26.37, 26.35, 26.34, 26.32, 26.31, 26.30, 26.29, 26.28, 26.27, 26.26, 26.26, 26.25, 26.25, 26.25, 26.25, 26.24, 26.20, 26.12, 26.05, 26.04, 26.06, 26.07, 26.07, 26.06, 26.02, 25.96, 25.95, 25.93],
    [26.73, 26.70, 26.66, 26.60, 26.58, 26.55, 26.51, 26.47, 26.46, 26.44, 26.42, 26.41, 26.40, 26.38, 26.36, 26.34, 26.33, 26.31, 26.30, 26.29, 26.28, 26.27, 26.26, 26.25, 26.24, 26.24, 26.23, 26.23, 26.22, 26.22, 26.21, 26.20, 26.19, 26.16, 26.11, 26.15, 26.16, 26.14, 26.11, 26.05, 26.04, 26.02],
    [26.555, 26.555, 26.55, 26.52, 26.47, 26.44, 26.44, 26.45, 26.43, 26.40, 26.37, 26.35, 26.325, 26.30, 26.28, 26.26, 26.24, 26.23, 26.22, 26.21, 26.20, 26.19, 26.19, 26.18, 26.18, 26.18, 26.18, 26.18, 26.18, 26.17, 26.17, 26.16, 26.15, 26.13, 26.11, 26.10, 26.08, 26.06, 26.03, 26.00, 25.99, 25.98],
]

notes = ['v6 board (84 sensors)', '2019-08-31 Test 2', 'Balcony', 'https://wiki.liutyi.info']

# line styles (Excel-like)
THIN, MID, THICK = 0.8, 1.3, 1.9
DASH = (0, (4, 2.5))
DOT = (0, (2.5, 2))
DASHDOT = (0, (6, 3, 1.5, 3))
LDASHDOT = (0, (9, 3, 1.5, 3))

series = []


def add(name, vals, color, lw=THIN, ls='-'):
    series.append((name, vals, color, lw, ls))


for v in sht20:
    add('SHT20', v, '#ffff00')
add('SHT21-C', sht21_c[0], '#fff2cc')
add('SHT21-C', sht21_c[1], '#fdf2e6')
add('SHT21-G', sht21_g[0], '#fbeee2')
add('SHT21-G', sht21_g[1], '#fbeee2')
add('SHT25', sht25, '#ffc000', MID)
for v in sht30:
    add('SHT30', v, '#fce4d6')
for v in sht31:
    add('SHT31', v, '#f8cbad')
for v in sht35:
    add('SHT35', v, '#f4b183')
for v in sht31_2:
    add('SHT31-2', v, '#ffd966', 1.0)
for v in bme280:
    add('BME280', v, '#b08cff')
add('BME280-G', bme280_g[0], '#c0a6ff')
add('BME280-G', bme280_g[1], '#c0a6ff')
add('BME280-A', bme280_a, '#9966ff', 1.6)
add('BME680-C', bme680_c[0], '#b9a3ff', THIN, DOT)
add('BME680-C', bme680_c[1], '#c0a6ff')
for v in si7021:
    add('Si7021', v, '#70ad47')
for v in si7021_y[:2]:
    add('Si7021-Y', v, '#93c572')
for v in si7021_y[2:]:
    add('Si7021-Y', v, '#c5e0b4')
add('Si7021-G', si7021_g, '#a9d18e', THIN, DOT)
add('Si7021-A', si7021_a, '#5e9e34', 1.6)
for v in htu21d_y[:4]:
    add('HTU21d-Y', v, '#a3bfe8')
add('HTU21d-Y', htu21d_y[4], '#bcd0ee')
for v in htu21d_g:
    add('HTU21d-G', v, '#6b8fd6')
add('HTU21d-A', htu21d_a, '#4472c4', 1.6)
for v in sht85:
    add('SHT85', v, '#ff0000', THICK)
add('SHT31-A', sht31_a, '#ed7d31', MID)
for v in aht10:
    add('AHT10', v, '#c0c0c0', THIN, DASHDOT)
for v in hdc1080_g:
    add('HDC1080-G', v, '#cc33cc')
for v in hdc1080_c:
    add('HDC1080-C', v, '#ff33ff')
for v in am2320:
    add('AM2320', v, '#404040')
for v in aht15:
    add('AHT15', v, '#a6a6a6', THIN, LDASHDOT)
for v in hdc2080:
    add('HDC2080', v, '#8e5ab8', 1.0, DASH)

for name, vals, *_ in series:
    if len(vals) != len(points):
        raise ValueError(f'{name}: {len(vals)} values')

sns.set_theme(style='white')
plt.rcParams['font.family'] = ['Lato', 'DejaVu Sans']

W, H = 1346, 559
fig = plt.figure(figsize=(W / 100, H / 100), dpi=100)
ax = fig.add_axes([36 / W, 1 - 526 / H, (982 - 36) / W, (526 - 11) / H])

handles = []
for name, vals, color, lw, ls in series:
    sns.lineplot(x=points, y=vals, ax=ax, color=color, linewidth=lw, linestyle=ls,
                 estimator=None, errorbar=None, legend=False)
    handles.append(ax.lines[-1])

ax.set_xlim(0.5, 42.5)
ax.set_ylim(24.8, 27.0)
ax.set_xticks(points)
ax.set_yticks([24.8, 25.3, 25.8, 26.3, 26.8])
ax.set_yticklabels(['24.8', '25.3', '25.8', '26.3', '26.8'])
ax.yaxis.grid(True, color='#d9d9d9', lw=1.0)
ax.xaxis.grid(False)
ax.set_axisbelow(True)
for s in ['top', 'left', 'right']:
    ax.spines[s].set_visible(False)
ax.spines['bottom'].set_color('#d9d9d9')
ax.tick_params(axis='both', length=0, labelsize=8, labelcolor='#595959')
ax.tick_params(axis='y', pad=7)
ax.tick_params(axis='x', pad=6)
ax.set_xlabel('')
ax.set_ylabel('')

# legend: Excel fills row by row, matplotlib column by column
ncol, nrow = 4, 21
order = [r * ncol + c for c in range(ncol) for r in range(nrow)]
leg = fig.legend([handles[i] for i in order], [series[i][0] for i in order],
                 ncol=ncol, loc='upper left', bbox_to_anchor=(995 / W, 1 - 8 / H),
                 fontsize=6.6, frameon=True, fancybox=False, edgecolor='#bfbfbf',
                 handlelength=3.0, handletextpad=0.4, columnspacing=0.5,
                 labelspacing=0.45, borderpad=0.3, borderaxespad=0)
leg.get_frame().set_linewidth(0.8)
for t in leg.get_texts():
    t.set_color('#404040')

fig.text(1000 / W, 1 - 297 / H, 'Temperature, °C', fontsize=10.5, color='#595959', va='center')
for i, line in enumerate(notes):
    fig.text(1000 / W, 1 - (333 + 17 * i) / H, line, fontsize=8.5, color='#595959', va='center')

fig.add_artist(Rectangle((5 / W, 1 - 555 / H), (1341 - 5) / W, (555 - 6) / H,
                         transform=fig.transFigure, fill=False, edgecolor='#d9d9d9', lw=0.8))

fig.savefig('out.png', dpi=100)
